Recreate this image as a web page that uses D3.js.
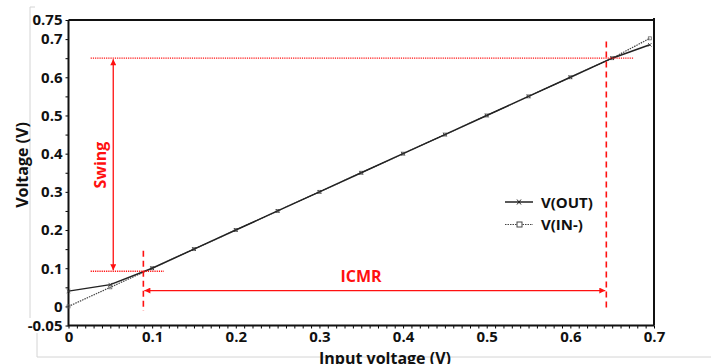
<!DOCTYPE html>
<html>
<head>
<meta charset="utf-8">
<script src="https://cdn.jsdelivr.net/npm/d3@7"></script>
<style>
  body { margin: 0; background: #fff; }
  svg { display: block; font-family: "Open Sans", sans-serif; }
</style>
</head>
<body>
<svg id="chart" width="711" height="364"></svg>
<script>
// data
var inputV = [0, 0.05, 0.1, 0.15, 0.2, 0.25, 0.3, 0.35, 0.4, 0.45, 0.5, 0.55, 0.6, 0.65, 0.695]
var vOut   = [0.04, 0.057, 0.1, 0.15, 0.2, 0.25, 0.3, 0.35, 0.4, 0.45, 0.5, 0.55, 0.6, 0.65, 0.685]
var vInMinus = [0, 0.05, 0.1, 0.15, 0.2, 0.25, 0.3, 0.35, 0.4, 0.45, 0.5, 0.55, 0.6, 0.65, 0.702]

var xTickLabels = [0, 0.1, 0.2, 0.3, 0.4, 0.5, 0.6, 0.7]
var yTickLabels = [-0.05, 0, 0.1, 0.2, 0.3, 0.4, 0.5, 0.6, 0.7, 0.75]

// annotation levels
var swingLevels = [0.092, 0.65]
var swingX = 0.0535
var icmrBounds = [0.0895, 0.643]
var icmrY = 0.0415

var svg = d3.select("#chart")

var x = d3.scaleLinear().domain([0, 0.7]).range([68.5, 654])
var y = d3.scaleLinear().domain([-0.05, 0.75]).range([325.5, 20])

// light frame of the pasted picture
svg.append("path")
    .attr("d", "M35,7H30V318")
    .attr("fill", "none").attr("stroke", "#d4d4d4").attr("stroke-width", 1)
svg.append("path")
    .attr("d", "M37,333V357H711")
    .attr("fill", "none").attr("stroke", "#d4d4d4").attr("stroke-width", 1)

// minor ticks
var yMinor = d3.range(-0.05, 0.7501, 0.05)
var xMinor = d3.range(0, 0.7001, 0.01)

svg.append("g")
    .attr("transform", "translate(" + x(0) + ",0)")
    .call(d3.axisLeft(y).tickValues(yMinor).tickSize(3).tickFormat(""))
    .call(function(g) { g.select(".domain").remove() })
svg.append("g")
    .attr("transform", "translate(0," + y(-0.05) + ")")
    .call(d3.axisBottom(x).tickValues(xMinor).tickSize(3).tickFormat(""))
    .call(function(g) { g.select(".domain").remove() })

var yAxis = svg.append("g")
    .attr("transform", "translate(" + x(0) + ",0)")
    .call(d3.axisLeft(y).tickValues(yTickLabels).tickSize(0).tickPadding(6)
        .tickFormat(function(d) { return d === 0 ? "0" : String(d) }))
yAxis.select(".domain").remove()
yAxis.selectAll("text").attr("font-size", 15).attr("font-weight", "bold")
    .attr("fill", "#111").attr("font-family", "Open Sans")

var xAxis = svg.append("g")
    .attr("transform", "translate(0," + y(-0.05) + ")")
    .call(d3.axisBottom(x).tickValues(xTickLabels).tickSize(0).tickPadding(6)
        .tickFormat(function(d) { return d === 0 ? "0" : String(d) }))
xAxis.select(".domain").remove()
xAxis.selectAll("text").attr("font-size", 15).attr("font-weight", "bold")
    .attr("fill", "#111").attr("font-family", "Open Sans")

// frame
svg.append("path")
    .attr("d", "M" + x(0) + "," + y(0.75) + "V" + y(-0.05) + "H" + x(0.7))
    .attr("fill", "none").attr("stroke", "#111").attr("stroke-width", 2)
svg.append("path")
    .attr("d", "M" + x(0) + "," + y(0.75) + "H" + x(0.7) + "M" + x(0.7) + "," + (y(0.75) - 2) + "V" + y(-0.05))
    .attr("fill", "none").attr("stroke", "#111").attr("stroke-width", 2)

// axis titles
svg.append("text")
    .attr("transform", "translate(28,165) rotate(-90)")
    .attr("text-anchor", "middle")
    .attr("font-size", 16).attr("font-weight", "bold").attr("fill", "#111")
    .text("Voltage (V)")
svg.append("text")
    .attr("x", 385).attr("y", 364)
    .attr("text-anchor", "middle")
    .attr("font-size", 16).attr("font-weight", "bold").attr("fill", "#111")
    .text("Input voltage (V)")

// series
var ptsOut = inputV.map(function(d, i) { return [d, vOut[i]] })
var ptsIn = inputV.map(function(d, i) { return [d, vInMinus[i]] })
var line = d3.line().x(function(d) { return x(d[0]) }).y(function(d) { return y(d[1]) })

svg.append("path").datum(ptsIn)
    .attr("d", line).attr("fill", "none")
    .attr("stroke", "#444").attr("stroke-width", 1.2).attr("stroke-dasharray", "1.5,1")
svg.selectAll(".sq").data(ptsIn).enter().append("rect")
    .attr("class", "sq")
    .attr("x", function(d) { return x(d[0]) - 1.5 })
    .attr("y", function(d) { return y(d[1]) - 1.5 })
    .attr("width", 3).attr("height", 3)
    .attr("fill", "none").attr("stroke", "#666").attr("stroke-width", 0.8)

svg.append("path").datum(ptsOut)
    .attr("d", line).attr("fill", "none")
    .attr("stroke", "#222").attr("stroke-width", 1.5)
svg.selectAll(".cross").data(ptsOut).enter().append("path")
    .attr("class", "cross")
    .attr("d", function(d) {
        var cx = x(d[0]), cy = y(d[1])
        return "M" + (cx - 1.8) + "," + (cy - 1.8) + "L" + (cx + 1.8) + "," + (cy + 1.8) +
               "M" + (cx - 1.8) + "," + (cy + 1.8) + "L" + (cx + 1.8) + "," + (cy - 1.8)
    })
    .attr("stroke", "#333").attr("stroke-width", 0.8)

// annotations
var red = "#ff1010"
var defs = svg.append("defs")
defs.append("marker")
    .attr("id", "arrow")
    .attr("viewBox", "0 0 10 10").attr("refX", 10).attr("refY", 5)
    .attr("markerWidth", 7).attr("markerHeight", 6)
    .attr("markerUnits", "userSpaceOnUse")
    .attr("orient", "auto-start-reverse")
    .append("path").attr("d", "M0,0L10,5L0,10Z").attr("fill", red)

// dotted levels for swing
svg.append("line")
    .attr("x1", x(0.0265)).attr("x2", x(0.676))
    .attr("y1", y(swingLevels[1])).attr("y2", y(swingLevels[1]))
    .attr("stroke", red).attr("stroke-width", 1.3).attr("stroke-dasharray", "1.2,1")
svg.append("line")
    .attr("x1", x(0.0265)).attr("x2", x(0.114))
    .attr("y1", y(swingLevels[0])).attr("y2", y(swingLevels[0]))
    .attr("stroke", red).attr("stroke-width", 1.3).attr("stroke-dasharray", "1.2,1")

// swing arrow
svg.append("line")
    .attr("x1", x(swingX)).attr("x2", x(swingX))
    .attr("y1", y(swingLevels[0]) - 1).attr("y2", y(swingLevels[1]) + 1)
    .attr("stroke", red).attr("stroke-width", 1.3)
    .attr("marker-start", "url(#arrow)").attr("marker-end", "url(#arrow)")
svg.append("text")
    .attr("transform", "translate(" + (x(swingX) - 7) + "," + y(0.37) + ") rotate(-90)")
    .attr("text-anchor", "middle")
    .attr("font-size", 16).attr("font-weight", "bold").attr("fill", red)
    .text("Swing")

// dashed ICMR bounds
svg.append("line")
    .attr("x1", x(icmrBounds[0])).attr("x2", x(icmrBounds[0]))
    .attr("y1", y(0.146)).attr("y2", y(-0.012))
    .attr("stroke", red).attr("stroke-width", 1.6).attr("stroke-dasharray", "6,4")
svg.append("line")
    .attr("x1", x(icmrBounds[1])).attr("x2", x(icmrBounds[1]))
    .attr("y1", y(0.694)).attr("y2", y(-0.007))
    .attr("stroke", red).attr("stroke-width", 1.6).attr("stroke-dasharray", "6,4")

// ICMR arrow
svg.append("line")
    .attr("x1", x(icmrBounds[0]) + 1).attr("x2", x(icmrBounds[1]) - 1)
    .attr("y1", y(icmrY)).attr("y2", y(icmrY))
    .attr("stroke", red).attr("stroke-width", 1.3)
    .attr("marker-start", "url(#arrow)").attr("marker-end", "url(#arrow)")
svg.append("text")
    .attr("x", 361).attr("y", y(icmrY) - 9)
    .attr("text-anchor", "middle")
    .attr("font-size", 16).attr("font-weight", "bold").attr("fill", red)
    .text("ICMR")

// legend
var legend = svg.append("g").attr("transform", "translate(505,202)")
legend.append("line").attr("x1", 0).attr("x2", 28).attr("y1", 0).attr("y2", 0)
    .attr("stroke", "#222").attr("stroke-width", 1.5)
legend.append("path").attr("d", "M12,-2.5L16,2.5M12,2.5L16,-2.5")
    .attr("stroke", "#222").attr("stroke-width", 1)
legend.append("text").attr("x", 36).attr("y", 5.5)
    .attr("font-size", 15).attr("font-weight", "bold").attr("fill", "#111")
    .text("V(OUT)")
legend.append("line").attr("x1", 0).attr("x2", 28).attr("y1", 22.5).attr("y2", 22.5)
    .attr("stroke", "#444").attr("stroke-width", 1.2).attr("stroke-dasharray", "1.5,1")
legend.append("rect").attr("x", 12).attr("y", 20).attr("width", 5).attr("height", 5)
    .attr("fill", "#fff").attr("stroke", "#444").attr("stroke-width", 1)
legend.append("text").attr("x", 36).attr("y", 28)
    .attr("font-size", 15).attr("font-weight", "bold").attr("fill", "#111")
    .text("V(IN-)")
</script>
</body>
</html>
